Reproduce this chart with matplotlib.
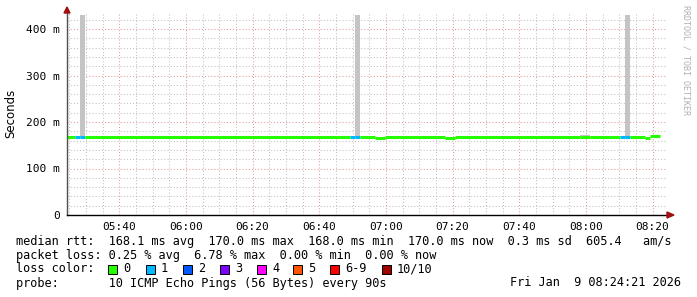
import matplotlib
matplotlib.use("Agg")
import matplotlib.pyplot as plt
from matplotlib.patches import Rectangle

W, H = 697, 297

# segment boundaries (clock time), one more entry than the value lists
seg_times = ["05:24:21", "05:26:45", "05:28:15", "05:29:45", "06:49:15", "06:50:45",
             "06:52:15", "06:56:45", "06:59:45", "07:17:45", "07:20:45", "07:58:15",
             "08:01:15", "08:10:15", "08:11:45", "08:13:15", "08:17:45", "08:19:15",
             "08:22:15"]
median_ms = [168, 168, 168, 168, 168, 168, 168, 166.5, 168, 166.5, 168, 168,
             168, 168, 168, 168, 166.5, 170]
smoke_max_ms = [168, 168, 430, 168, 168, 430, 168, 166.5, 168, 166.5, 168, 171.5,
                168, 168, 430, 168, 166.5, 170]
loss = [0, 1, 1, 0, 1, 1, 0, 0, 0, 0, 0, 0, 0, 1, 1, 0, 0, 0]

loss_labels = ["0", "1", "2", "3", "4", "5", "6-9", "10/10"]
loss_colors = ["#26ff00", "#00b8ff", "#0059ff", "#7e00ff", "#ff00ff", "#ff5500",
               "#ff0000", "#a10000"]

x_ticks = ["05:40", "06:00", "06:20", "06:40", "07:00", "07:20", "07:40", "08:00", "08:20"]
y_ticks = [0, 100, 200, 300, 400]
y_labels = ["0", "100 m", "200 m", "300 m", "400 m"]

legend_lines = [
    "median rtt:  168.1 ms avg  170.0 ms max  168.0 ms min  170.0 ms now  0.3 ms sd  605.4   am/s",
    "packet loss: 0.25 % avg  6.78 % max  0.00 % min  0.00 % now",
]
probe_text = "probe:       10 ICMP Echo Pings (56 Bytes) every 90s"
date_text = "Fri Jan  9 08:24:21 2026"


def to_min(s):
    p = [int(v) for v in s.split(":")]
    return p[0] * 60 + p[1] + (p[2] if len(p) > 2 else 0) / 60.0


t = [to_min(s) for s in seg_times]
t_start, t_end = to_min("05:24:21"), to_min("08:24:21")

mono = "DejaVu Sans Mono"
fig = plt.figure(figsize=(W / 100, H / 100), dpi=100)
fig.patch.set_facecolor("white")

ax_l, ax_r, ax_b, ax_t = 67, 667, 215, 12
ax = fig.add_axes([ax_l / W, 1 - ax_b / H, (ax_r - ax_l) / W, (ax_b - ax_t) / H])
ax.set_xlim(t_start, t_end)
ax.set_ylim(0, (ax_b - ax_t) / 0.465)

# grid
minor_col = "#c0c0c0"
major_col = "#e89898"
m = int(t_start) - int(t_start) % 5 + 5
while m < t_end:
    c = major_col if m % 20 == 0 else minor_col
    ax.axvline(m, color=c, lw=0.75, ls=(0, (1, 2)), zorder=0)
    m += 5
for v in range(20, 440, 20):
    c = major_col if v % 100 == 0 else minor_col
    ax.axhline(v, color=c, lw=0.75, ls=(0, (1, 2)), zorder=0)

# smoke and median
for i in range(len(median_ms)):
    if smoke_max_ms[i] > median_ms[i]:
        ax.fill_between([t[i], t[i + 1]], median_ms[i], smoke_max_ms[i],
                        color="#c4c4c4", lw=0, zorder=1)
for i in range(len(median_ms)):
    ax.plot([t[i], t[i + 1]], [median_ms[i], median_ms[i]],
            color=loss_colors[loss[i]], lw=2.2, solid_capstyle="butt", zorder=2)

for s in ["top", "right"]:
    ax.spines[s].set_visible(False)
ax.spines["left"].set_color("#505050")
ax.spines["bottom"].set_color("black")
ax.spines["left"].set_linewidth(1)
ax.spines["bottom"].set_linewidth(1)

ax.set_xticks([to_min(s) for s in x_ticks])
ax.set_xticklabels(x_ticks)
ax.set_yticks(y_ticks)
ax.set_yticklabels(y_labels)
ax.tick_params(length=0, labelsize=8, pad=5, colors="black")
for lab in ax.get_xticklabels() + ax.get_yticklabels():
    lab.set_family(mono)

# arrows
fig.patches.append(plt.Polygon([[64 / W, 1 - 13 / H], [70 / W, 1 - 13 / H], [67 / W, 1 - 7 / H]],
                               closed=True, color="#a01010", transform=fig.transFigure))
fig.patches.append(plt.Polygon([[667 / W, 1 - 212 / H], [667 / W, 1 - 218 / H], [674 / W, 1 - 215 / H]],
                               closed=True, color="#a01010", transform=fig.transFigure))

fig.text(11 / W, 1 - 113 / H, "Seconds", rotation=90, ha="center", va="center", fontsize=8.5)
fig.text(686 / W, 1 - 5 / H, "RRDTOOL / TOBI OETIKER", rotation=270, ha="center", va="top",
         fontsize=6, family=mono, color="#b0b0b0")

fs = 8.6
fig.text(16 / W, 1 - 241 / H, legend_lines[0], family=mono, fontsize=fs, va="center")
fig.text(16 / W, 1 - 255 / H, legend_lines[1], family=mono, fontsize=fs, va="center")
fig.text(16 / W, 1 - 269 / H, "loss color:", family=mono, fontsize=fs, va="center")
box_x = [108, 146, 183, 220, 257, 293, 330, 382]
for bx, lab, col in zip(box_x, loss_labels, loss_colors):
    fig.patches.append(Rectangle((bx / W, 1 - 274 / H), 9 / W, 9 / H, facecolor=col,
                                 edgecolor="black", lw=0.7, transform=fig.transFigure))
    fig.text((bx + 15) / W, 1 - 269 / H, lab, family=mono, fontsize=fs, va="center")
fig.text(16 / W, 1 - 283 / H, probe_text, family=mono, fontsize=fs, va="center")
fig.text(681 / W, 1 - 283 / H, date_text, family=mono, fontsize=fs, va="center", ha="right")

fig.savefig("out.png", dpi=100)
